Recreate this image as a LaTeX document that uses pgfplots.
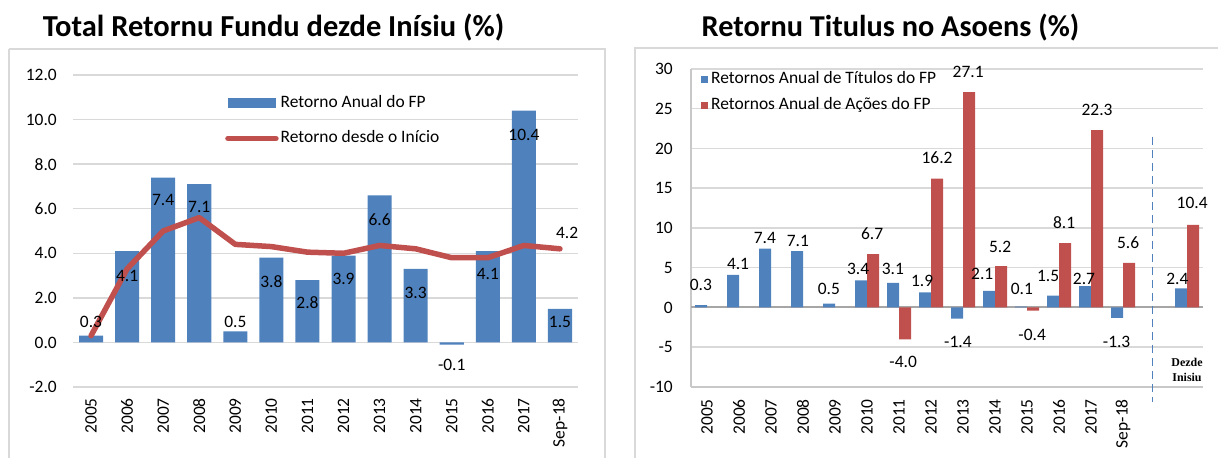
\documentclass[border=0pt]{standalone}
\usepackage{pgfplots}
\usepackage{pgfplotstable}
\pgfplotsset{compat=1.18}
\usepackage{fontspec}
\setmainfont{Carlito}
\newfontfamily\serifbf{Liberation Serif}
\definecolor{barblue}{RGB}{79,129,189}
\definecolor{barred}{RGB}{192,80,77}
\definecolor{gridgray}{RGB}{217,217,217}
\definecolor{axisgray}{RGB}{200,200,200}
\definecolor{zerogray}{RGB}{166,166,166}
\definecolor{framegray}{RGB}{217,217,217}

\pgfplotstableread{
x y
0 0.3
1 4.1
2 7.4
3 7.1
4 0.5
5 3.8
6 2.8
7 3.9
8 6.6
9 3.3
10 -0.1
11 4.1
12 10.4
13 1.5
}\leftbars

\pgfplotstableread{
x y
0 0.3
1 3.3
2 5.0
3 5.6
4 4.4
5 4.3
6 4.05
7 4.0
8 4.35
9 4.2
10 3.8
11 3.8
12 4.35
13 4.2
}\leftline

\pgfplotstableread{
x y lab
0 0.94 0.3
1 3.0 4.1
2 6.37 7.4
3 6.06 7.1
4 0.94 0.5
5 2.74 3.8
6 1.79 2.8
7 2.83 3.9
8 5.52 6.6
9 2.24 3.3
10 -1.03 -0.1
11 3.05 4.1
12 9.29 10.4
13 0.94 1.5
13.2 4.93 4.2
}\leftlabels

\pgfplotstableread{
x y
0 0.3
1 4.1
2 7.4
3 7.1
4 0.5
5 3.4
6 3.1
7 1.9
8 -1.4
9 2.1
10 0.1
11 1.5
12 2.7
13 -1.3
15 2.4
}\rightblue

\pgfplotstableread{
x y
5 6.7
6 -4.0
7 16.2
8 27.1
9 5.2
10 -0.4
11 8.1
12 22.3
13 5.6
15 10.4
}\rightred

\pgfplotstableread{
x y lab
-0.19 2.9 0.3
0.97 5.5 4.1
1.81 8.7 7.4
2.84 8.4 7.1
3.81 2.4 0.5
4.72 4.8 3.4
5.81 4.8 3.1
6.72 3.3 1.9
7.84 -4.3 -1.4
8.6 4.2 2.1
9.84 2.3 0.1
10.66 4.0 1.5
11.78 3.6 2.7
12.8 -4.3 -1.3
14.7 3.6 2.4
5.16 9.3 6.7
6.13 -6.9 -4.0
7.19 18.8 16.2
8.16 29.6 27.1
9.16 7.6 5.2
10.16 -3.4 -0.4
11.16 10.7 8.1
12.19 24.9 22.3
13.16 8.2 5.6
15.16 13.1 10.4
}\rightlabels

\begin{document}
\begin{tikzpicture}[x=1bp,y=1bp]
\useasboundingbox (0,0) rectangle (1218,458);
% frames
\draw[framegray, line width=1.5bp] (9,409) -- (9,-10);
\draw[framegray, line width=1.5bp] (9,409) -- (605,409) -- (605,-10);
\draw[framegray, line width=1.5bp] (635,-10) -- (635,410) -- (1230,410);
% titles
\node[anchor=base, font=\bfseries\fontsize{30.6}{36}\selectfont, inner sep=0pt] at (273.5,421) {Total Retornu Fundu dezde Inísiu (\%)};
\node[anchor=base, font=\bfseries\fontsize{30.4}{36}\selectfont, inner sep=0pt] at (890.5,421) {Retornu Titulus no Asoens (\%)};

% ---------------- left chart
\begin{axis}[
  at={(73bp,71bp)}, anchor=south west,
  scale only axis, width=505bp, height=312bp,
  xmin=-0.5, xmax=13.5, ymin=-2, ymax=12,
  ytick={-2,0,2,4,6,8,10,12},
  yticklabels={-2.0,0.0,2.0,4.0,6.0,8.0,10.0,12.0},
  xtick={0,1,2,3,4,5,6,7,8,9,10,11,12,13},
  xticklabels={2005,2006,2007,2008,2009,2010,2011,2012,2013,2014,2015,2016,2017,Sep-18},
  ymajorgrids, grid style={gridgray, line width=1.5bp},
  axis line style={draw=none},
  major tick length=0pt,
  tick label style={font=\fontsize{17.5}{20}\selectfont, inner sep=0pt},
  yticklabel style={anchor=east, xshift=-16bp},
  xticklabel style={yshift=-11bp, rotate=90, anchor=east},
  clip=false,
  legend style={at={(rel axis cs:0.301,0.935)}, anchor=north west, draw=none, fill=none,
    inner sep=0pt, row sep=19bp, column sep=2bp,
    nodes={inner sep=0pt, text height=12bp, text depth=4bp},
    font=\fontsize{17.5}{20}\selectfont},
  legend cell align=left,
]
\addplot[ybar, bar width=0.667, bar shift=0, fill=barblue, draw=none,
  legend image code/.code={\fill[barblue] (0bp,-5bp) rectangle (48bp,5bp);}]
  table[x=x,y=y] {\leftbars};
\addlegendentry{Retorno Anual do FP}
\addplot[barred, line width=5.5bp, line cap=round, line join=round, mark=none,
  legend image code/.code={\draw[barred, line width=5.5bp, line cap=round] (0bp,0bp) -- (48bp,0bp);}]
  table[x=x,y=y] {\leftline};
\addlegendentry{Retorno desde o Início}
\addplot[only marks, mark=none, nodes near coords, point meta=explicit symbolic,
  every node near coord/.append style={anchor=center, inner sep=0pt, font=\fontsize{17.5}{20}\selectfont, text=black},
  forget plot]
  table[x=x,y=y,meta=lab] {\leftlabels};
\end{axis}

% ---------------- right chart
\begin{axis}[
  at={(691bp,71bp)}, anchor=south west,
  scale only axis, width=512bp, height=318bp,
  xmin=-0.5, xmax=15.5, ymin=-10, ymax=30,
  ytick={-10,-5,0,5,10,15,20,25,30},
  yticklabels={-10,-5,0,5,10,15,20,25,30},
  xtick={0,1,2,3,4,5,6,7,8,9,10,11,12,13},
  xticklabels={2005,2006,2007,2008,2009,2010,2011,2012,2013,2014,2015,2016,2017,Sep-18},
  ymajorgrids, grid style={gridgray, line width=1.5bp},
  axis x line*=bottom, axis y line*=left,
  axis line style={axisgray, line width=1.5bp},
  extra y ticks={0}, extra y tick labels={},
  extra y tick style={grid style={zerogray, line width=2bp}},
  major tick length=0pt,
  tick label style={font=\fontsize{17.5}{20}\selectfont, inner sep=0pt},
  yticklabel style={anchor=east, xshift=-18bp},
  xticklabel style={yshift=-12bp, rotate=90, anchor=east},
  clip=false,
  legend style={at={(rel axis cs:0.0195,0.994)}, anchor=north west, draw=none, fill=none,
    inner sep=0pt, row sep=10bp, column sep=3bp,
    nodes={inner sep=0pt, text height=12bp, text depth=4bp},
    font=\fontsize{17.5}{20}\selectfont},
  legend cell align=left,
]
\addplot[ybar, bar width=0.375, bar shift=-0.1875, fill=barblue, draw=none,
  legend image code/.code={\fill[barblue] (0bp,-3.5bp) rectangle (7bp,3.5bp);}]
  table[x=x,y=y] {\rightblue};
\addlegendentry{Retornos Anual de Títulos do FP}
\addplot[ybar, bar width=0.375, bar shift=0.1875, fill=barred, draw=none,
  legend image code/.code={\fill[barred] (0bp,-3.5bp) rectangle (7bp,3.5bp);}]
  table[x=x,y=y] {\rightred};
\addlegendentry{Retornos Anual de Ações do FP}
\addplot[only marks, mark=none, nodes near coords, point meta=explicit symbolic,
  every node near coord/.append style={anchor=center, inner sep=0pt, font=\fontsize{17.5}{20}\selectfont, text=black},
  forget plot]
  table[x=x,y=y,meta=lab] {\rightlabels};
\draw[barblue, line width=1.5bp, dash pattern=on 8bp off 5bp] (axis cs:13.92,21.4) -- (axis cs:13.92,-11.95);
\node[font=\serifbf\bfseries\fontsize{12}{15}\selectfont, align=center, inner sep=0pt] at (axis cs:15,-7.9) {Dezde\\Inisiu};
\end{axis}
\end{tikzpicture}
\end{document}
